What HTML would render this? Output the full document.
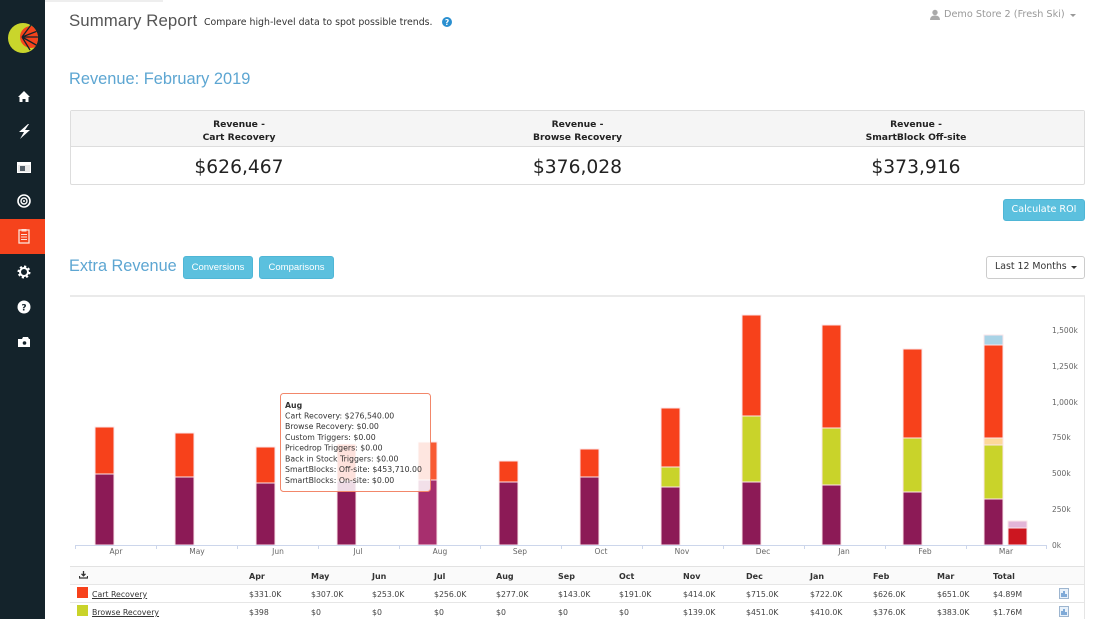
<!DOCTYPE html>
<html><head><meta charset="utf-8">
<style>
*{margin:0;padding:0;box-sizing:border-box}
body{width:1100px;height:619px;overflow:hidden;background:#fff;position:relative;font-family:"DejaVu Sans","Liberation Sans",sans-serif;color:#333}
.a{position:absolute;white-space:nowrap}
.side{position:absolute;left:0;top:0;width:45px;height:619px;background:#14232b}
.act{position:absolute;left:0;top:219px;width:45px;height:35px;background:#f5431c}
.rl{font-family:"Liberation Sans",sans-serif}
.btn{position:absolute;background:#5bc0de;border:1px solid #4fb6d6;border-radius:3px;color:#fff;font-size:9px;text-align:center}
.th{font-weight:bold;font-size:8px;color:#333}
.td{font-size:7.8px;color:#444}
</style></head><body>
<div class="side"></div>
<div class="act"></div>
<div class="a" style="left:45px;top:0;width:118px;height:2px;background:#eee"></div>

<svg class="a" style="left:0;top:0" width="45" height="360" viewBox="0 0 45 360">
  <defs><clipPath id="lc"><circle cx="23" cy="38" r="15"/></clipPath></defs>
  <circle cx="23" cy="38" r="15" fill="#c9d52c"/>
  <g clip-path="url(#lc)">
    <circle cx="31" cy="37" r="11" fill="#f5431c"/>
    <path d="M22 37 L40 30 M22 37 L40 37 M22 37 L38 46 M22 37 L31 25 M22 37 L30 50" stroke="#14232b" stroke-width="1.3"/>
  </g>
  <path d="M18 97 L24 91 L30 97 L28.5 97 L28.5 102 L25.5 102 L25.5 99 L22.5 99 L22.5 102 L19.5 102 L19.5 97Z" fill="#fff"/>
  <path d="M28 124 L19 132 L24 132 L20 139 L30 130 L25 130 L29 124Z" fill="#fff"/>
  <rect x="17.5" y="162.5" width="13" height="10" fill="#e9e9e9" stroke="#fff"/>
  <rect x="18" y="163" width="12" height="2" fill="#fff"/>
  <rect x="20" y="166" width="5" height="5" fill="#55606a"/>
  <circle cx="24" cy="201" r="6" fill="none" stroke="#fff" stroke-width="1.6"/>
  <circle cx="24" cy="201" r="3" fill="none" stroke="#fff" stroke-width="1.4"/>
  <circle cx="24" cy="201" r="1" fill="#fff"/>
  <rect x="19" y="230" width="10" height="13" fill="none" stroke="#fde1d8" stroke-width="1.3"/>
  <rect x="21.5" y="229" width="5" height="2.5" fill="#fde1d8"/>
  <path d="M21 234.5 H27 M21 237 H27 M21 239.5 H27" stroke="#fde1d8" stroke-width="1"/>
  <circle cx="24" cy="272" r="5" fill="none" stroke="#fff" stroke-width="3" stroke-dasharray="2 1.9"/>
  <circle cx="24" cy="272" r="4" fill="none" stroke="#fff" stroke-width="2"/>
  <circle cx="24" cy="307" r="6.5" fill="#fff"/>
  <text x="24" y="310.5" font-size="9" font-weight="bold" text-anchor="middle" fill="#14232b" font-family="DejaVu Sans">?</text>
  <path d="M18 339 L22 339 L23 337 L28 337 L29 339 L30 339 L30 347 L18 347Z" fill="#fff"/>
  <circle cx="24.5" cy="343" r="1.8" fill="#14232b"/>
</svg>

<div class="a rl" style="left:69px;top:11px;font-size:16.8px;color:#555;letter-spacing:0.1px">Summary Report</div>
<div class="a" style="left:204px;top:17px;font-size:9.4px;color:#333">Compare high-level data to spot possible trends.</div>
<svg class="a" style="left:441px;top:16px" width="12" height="12"><circle cx="6" cy="6" r="5" fill="#2a8fd0"/><text x="6" y="9" font-size="7.5" font-weight="bold" text-anchor="middle" fill="#fff" font-family="DejaVu Sans">?</text></svg>

<svg class="a" style="left:929px;top:9px" width="12" height="12"><circle cx="6" cy="3.5" r="2.7" fill="#aaa"/><path d="M1 11 Q1 6.5 6 6.5 Q11 6.5 11 11Z" fill="#aaa"/></svg>
<div class="a" style="left:944px;top:9px;font-size:9.7px;color:#999">Demo Store 2 (Fresh Ski)</div>
<svg class="a" style="left:1070px;top:14px" width="8" height="5"><path d="M0 0 L6 0 L3 3Z" fill="#999"/></svg>

<div class="a rl" style="left:69px;top:70px;font-size:16.4px;color:#5da6d2">Revenue: February 2019</div>

<div class="a" style="left:70px;top:110px;width:1015px;height:75px;border:1px solid #ddd;border-radius:2px;background:#fff"></div>
<div class="a" style="left:71px;top:111px;width:1013px;height:36px;background:#f5f5f5;border-bottom:1px solid #ddd"></div>
<div class="a" style="left:70px;top:118px;width:338px;text-align:center;font-size:9.2px;font-weight:bold;line-height:13px;color:#222">Revenue -<br>Cart Recovery</div>
<div class="a" style="left:408px;top:118px;width:339px;text-align:center;font-size:9.2px;font-weight:bold;line-height:13px;color:#222">Revenue -<br>Browse Recovery</div>
<div class="a" style="left:747px;top:118px;width:338px;text-align:center;font-size:9.2px;font-weight:bold;line-height:13px;color:#222">Revenue -<br>SmartBlock Off-site</div>
<div class="a" style="left:70px;top:157px;width:338px;text-align:center;font-size:18.7px;color:#222">$626,467</div>
<div class="a" style="left:408px;top:157px;width:339px;text-align:center;font-size:18.7px;color:#222">$376,028</div>
<div class="a" style="left:747px;top:157px;width:338px;text-align:center;font-size:18.7px;color:#222">$373,916</div>

<div class="btn" style="left:1003px;top:199px;width:82px;height:22px;line-height:20px;font-size:9.6px">Calculate ROI</div>

<div class="a rl" style="left:69px;top:257px;font-size:16.3px;color:#5da6d2">Extra Revenue</div>
<div class="btn rl" style="left:183px;top:256px;width:70px;height:23px;line-height:21px;font-size:9.5px">Conversions</div>
<div class="btn rl" style="left:259px;top:256px;width:75px;height:23px;line-height:21px;font-size:9.5px">Comparisons</div>
<div class="a" style="left:986px;top:256px;width:99px;height:23px;border:1px solid #ccc;border-radius:3px;background:#fff"></div>
<div class="a" style="left:995px;top:261px;font-size:9.4px;color:#333">Last 12 Months</div>
<svg class="a" style="left:1071px;top:266px" width="7" height="4"><path d="M0 0 L6 0 L3 3Z" fill="#333"/></svg>

<div class="a" style="left:70px;top:295px;width:1015px;height:2px;background:#eaeaea"></div>
<div class="a" style="left:1084px;top:296px;width:1px;height:323px;background:#e5e5e5"></div>

<svg class="a" style="left:0;top:0" width="1100" height="619" viewBox="0 0 1100 619" font-family="DejaVu Sans, sans-serif">
  <g stroke="#fbe6ea" stroke-width="1">
    <rect x="95" y="474" width="19" height="71" fill="#8c1a56"/>
    <rect x="95" y="427" width="19" height="47" fill="#f7411b"/>
    <rect x="175" y="477" width="19" height="68" fill="#8c1a56"/>
    <rect x="175" y="433" width="19" height="44" fill="#f7411b"/>
    <rect x="256" y="483" width="19" height="62" fill="#8c1a56"/>
    <rect x="256" y="447" width="19" height="36" fill="#f7411b"/>
    <rect x="337" y="481" width="19" height="64" fill="#8c1a56"/>
    <rect x="337" y="444" width="19" height="37" fill="#f7411b"/>
    <rect x="418" y="480" width="19" height="65" fill="#a72f6e"/>
    <rect x="418" y="442" width="19" height="38" fill="#f85a33"/>
    <rect x="499" y="482" width="19" height="63" fill="#8c1a56"/>
    <rect x="499" y="461" width="19" height="21" fill="#f7411b"/>
    <rect x="580" y="477" width="19" height="68" fill="#8c1a56"/>
    <rect x="580" y="449" width="19" height="28" fill="#f7411b"/>
    <rect x="661" y="487" width="19" height="58" fill="#8c1a56"/>
    <rect x="661" y="467" width="19" height="20" fill="#c9d32a"/>
    <rect x="661" y="408" width="19" height="59" fill="#f7411b"/>
    <rect x="742" y="482" width="19" height="63" fill="#8c1a56"/>
    <rect x="742" y="416" width="19" height="66" fill="#c9d32a"/>
    <rect x="742" y="315" width="19" height="101" fill="#f7411b"/>
    <rect x="822" y="485" width="19" height="60" fill="#8c1a56"/>
    <rect x="822" y="428" width="19" height="57" fill="#c9d32a"/>
    <rect x="822" y="325" width="19" height="103" fill="#f7411b"/>
    <rect x="903" y="492" width="19" height="53" fill="#8c1a56"/>
    <rect x="903" y="438" width="19" height="54" fill="#c9d32a"/>
    <rect x="903" y="349" width="19" height="89" fill="#f7411b"/>
    <rect x="984" y="499" width="19" height="46" fill="#8c1a56"/>
    <rect x="984" y="445" width="19" height="54" fill="#c9d32a"/>
    <rect x="984" y="438" width="19" height="7" fill="#fdd89a"/>
    <rect x="984" y="345" width="19" height="93" fill="#f7411b"/>
    <rect x="984" y="335" width="19" height="10" fill="#a9d3e6"/>
    <rect x="1008" y="528" width="19" height="17" fill="#cc1620"/>
    <rect x="1008" y="521" width="19" height="7" fill="#e3b5d8"/>
  </g>
  <line x1="75" y1="545.5" x2="1046" y2="545.5" stroke="#ccd6eb" stroke-width="1"/>
  <g stroke="#ccd6eb" stroke-width="1">
    <line x1="75.5" y1="545" x2="75.5" y2="549"/><line x1="156.5" y1="545" x2="156.5" y2="549"/>
    <line x1="237.5" y1="545" x2="237.5" y2="549"/><line x1="318.5" y1="545" x2="318.5" y2="549"/>
    <line x1="399.5" y1="545" x2="399.5" y2="549"/><line x1="480.5" y1="545" x2="480.5" y2="549"/>
    <line x1="561.5" y1="545" x2="561.5" y2="549"/><line x1="642.5" y1="545" x2="642.5" y2="549"/>
    <line x1="723.5" y1="545" x2="723.5" y2="549"/><line x1="804.5" y1="545" x2="804.5" y2="549"/>
    <line x1="885.5" y1="545" x2="885.5" y2="549"/><line x1="966.5" y1="545" x2="966.5" y2="549"/>
    <line x1="1046.5" y1="545" x2="1046.5" y2="549"/>
  </g>
  <g font-size="7.5" fill="#666" text-anchor="middle">
    <text x="116" y="554">Apr</text><text x="197" y="554">May</text><text x="278" y="554">Jun</text>
    <text x="358" y="554">Jul</text><text x="440" y="554">Aug</text><text x="520" y="554">Sep</text>
    <text x="601" y="554">Oct</text><text x="682" y="554">Nov</text><text x="763" y="554">Dec</text>
    <text x="844" y="554">Jan</text><text x="925" y="554">Feb</text><text x="1006" y="554">Mar</text>
  </g>
  <g font-size="7.5" fill="#666">
    <text x="1052" y="548">0k</text><text x="1052" y="512">250k</text><text x="1052" y="476">500k</text>
    <text x="1052" y="440">750k</text><text x="1052" y="405">1,000k</text><text x="1052" y="369">1,250k</text>
    <text x="1052" y="333">1,500k</text>
  </g>
  <rect x="280.5" y="393.5" width="150" height="98" rx="3" fill="#fff" fill-opacity="0.85" stroke="#f2876a" stroke-width="1"/>
  <g font-size="7.8" fill="#333">
    <text x="285" y="408" font-weight="bold">Aug</text>
    <text x="285" y="418.5">Cart Recovery: $276,540.00</text>
    <text x="285" y="429.2">Browse Recovery: $0.00</text>
    <text x="285" y="440">Custom Triggers: $0.00</text>
    <text x="285" y="450.6">Pricedrop Triggers: $0.00</text>
    <text x="285" y="461.5">Back in Stock Triggers: $0.00</text>
    <text x="285" y="472.2">SmartBlocks: Off-site: $453,710.00</text>
    <text x="285" y="482.8">SmartBlocks: On-site: $0.00</text>
  </g>
</svg>

<div class="a" style="left:70px;top:566px;width:1014px;height:1px;background:#e2e2e2"></div>
<div class="a" style="left:70px;top:567px;width:1014px;height:17px;background:#fafafa"></div>
<div class="a" style="left:70px;top:584px;width:1014px;height:1px;background:#e6e6e6"></div>
<div class="a" style="left:70px;top:602px;width:1014px;height:1px;background:#e6e6e6"></div>
<svg class="a" style="left:79px;top:571px" width="9" height="8"><path d="M4.5 0 V4.5 M2.5 2.8 L4.5 4.8 L6.5 2.8" stroke="#333" stroke-width="1.3" fill="none"/><path d="M0.5 5 V7 H8.5 V5" stroke="#333" stroke-width="1.2" fill="none"/></svg>

<div class="a th" style="left:249px;top:572px">Apr</div>
<div class="a th" style="left:311px;top:572px">May</div>
<div class="a th" style="left:372px;top:572px">Jun</div>
<div class="a th" style="left:434px;top:572px">Jul</div>
<div class="a th" style="left:496px;top:572px">Aug</div>
<div class="a th" style="left:558px;top:572px">Sep</div>
<div class="a th" style="left:619px;top:572px">Oct</div>
<div class="a th" style="left:683px;top:572px">Nov</div>
<div class="a th" style="left:746px;top:572px">Dec</div>
<div class="a th" style="left:810px;top:572px">Jan</div>
<div class="a th" style="left:873px;top:572px">Feb</div>
<div class="a th" style="left:937px;top:572px">Mar</div>
<div class="a th" style="left:993px;top:572px">Total</div>

<div class="a" style="left:77px;top:587px;width:11px;height:11px;background:#f7411b"></div>
<div class="a td" style="left:92px;top:590px;text-decoration:underline;color:#333">Cart Recovery</div>
<div class="a td" style="left:249px;top:590px">$331.0K</div>
<div class="a td" style="left:311px;top:590px">$307.0K</div>
<div class="a td" style="left:372px;top:590px">$253.0K</div>
<div class="a td" style="left:434px;top:590px">$256.0K</div>
<div class="a td" style="left:496px;top:590px">$277.0K</div>
<div class="a td" style="left:558px;top:590px">$143.0K</div>
<div class="a td" style="left:619px;top:590px">$191.0K</div>
<div class="a td" style="left:683px;top:590px">$414.0K</div>
<div class="a td" style="left:746px;top:590px">$715.0K</div>
<div class="a td" style="left:810px;top:590px">$722.0K</div>
<div class="a td" style="left:873px;top:590px">$626.0K</div>
<div class="a td" style="left:937px;top:590px">$651.0K</div>
<div class="a td" style="left:993px;top:590px">$4.89M</div>
<svg class="a" style="left:1059px;top:588px" width="10" height="11"><rect x="0.5" y="0.5" width="9" height="10" fill="#e8f1fa" stroke="#9db5cf"/><path d="M3 9 V5 M5 9 V3 M7 9 V6" stroke="#3a7ac0" stroke-width="1.2"/></svg>

<div class="a" style="left:77px;top:605px;width:11px;height:11px;background:#c9d32a"></div>
<div class="a td" style="left:92px;top:608px;text-decoration:underline;color:#333">Browse Recovery</div>
<div class="a td" style="left:249px;top:608px">$398</div>
<div class="a td" style="left:311px;top:608px">$0</div>
<div class="a td" style="left:372px;top:608px">$0</div>
<div class="a td" style="left:434px;top:608px">$0</div>
<div class="a td" style="left:496px;top:608px">$0</div>
<div class="a td" style="left:558px;top:608px">$0</div>
<div class="a td" style="left:619px;top:608px">$0</div>
<div class="a td" style="left:683px;top:608px">$139.0K</div>
<div class="a td" style="left:746px;top:608px">$451.0K</div>
<div class="a td" style="left:810px;top:608px">$410.0K</div>
<div class="a td" style="left:873px;top:608px">$376.0K</div>
<div class="a td" style="left:937px;top:608px">$383.0K</div>
<div class="a td" style="left:993px;top:608px">$1.76M</div>
<svg class="a" style="left:1059px;top:606px" width="10" height="11"><rect x="0.5" y="0.5" width="9" height="10" fill="#e8f1fa" stroke="#9db5cf"/><path d="M3 9 V5 M5 9 V3 M7 9 V6" stroke="#3a7ac0" stroke-width="1.2"/></svg>
</body></html>
